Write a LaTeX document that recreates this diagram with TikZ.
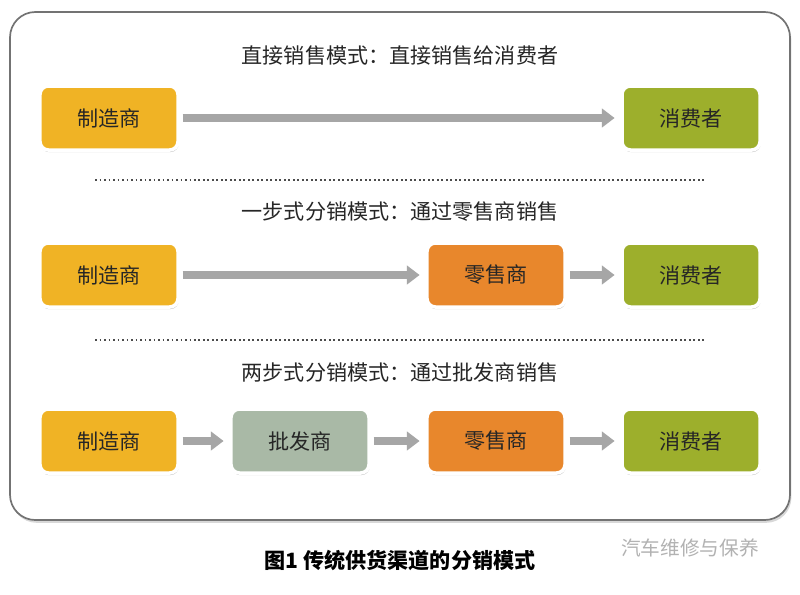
\documentclass[tikz,border=0pt]{standalone}
\usepackage{fontspec}
\newfontfamily\cjk{Noto Sans CJK SC}
\usetikzlibrary{arrows.meta,shadows,positioning}
\definecolor{mfr}{HTML}{F0B325}
\definecolor{ret}{HTML}{E8872C}
\definecolor{cons}{HTML}{9DAF2C}
\definecolor{whl}{HTML}{A9B9A6}
\tikzset{
  box/.style={draw=white, line width=2.5pt, rounded corners=6pt, minimum width=3.45cm,
    minimum height=1.6cm, font=\cjk\fontsize{15}{15}\selectfont, text=black!85,
    drop shadow={shadow xshift=0.5pt, shadow yshift=-1.5pt, opacity=0.45}},
  flow/.style={line width=5pt, draw=black!35, -{Triangle[length=9pt,width=13pt]}, shorten <=2pt, shorten >=4pt},
  title/.style={font=\cjk\fontsize{15}{15}\selectfont, text=black!85},
  sep/.style={dotted, line width=1.2pt, black!70}
}
\begin{document}
\begin{tikzpicture}[x=0.025cm,y=-0.025cm]
  \useasboundingbox (0,0) rectangle (800,594);
  \fill[white] (0,0) rectangle (800,594);
  \draw[black!55, line width=1.2pt, rounded corners=18pt, fill=white,
    drop shadow={shadow xshift=1pt, shadow yshift=-2pt, opacity=0.3}] (10,12) rectangle (790,520);
  % row 1
  \node[title] (t1) at (400,55) {直接销售模式：直接销售给消费者};
  \node[box, fill=mfr] (m1) at (109,118) {制造商};
  \node[box, fill=cons] (c1) at (691,118) {消费者};
  \draw[flow] (m1) -- (c1);
  \draw[sep] (95,180) -- (705,180);
  % row 2
  \node[title] (t2) at (400,212) {一步式分销模式：通过零售商销售};
  \node[box, fill=mfr] (m2) at (109,275) {制造商};
  \node[box, fill=ret] (r2) at (496,275) {零售商};
  \node[box, fill=cons] (c2) at (691,275) {消费者};
  \draw[flow] (m2) -- (r2);
  \draw[flow] (r2) -- (c2);
  \draw[sep] (95,340) -- (705,340);
  % row 3
  \node[title] (t3) at (400,372) {两步式分销模式：通过批发商销售};
  \node[box, fill=mfr] (m3) at (109,441) {制造商};
  \node[box, fill=whl] (w3) at (300,441) {批发商};
  \node[box, fill=ret] (r3) at (496,441) {零售商};
  \node[box, fill=cons] (c3) at (691,441) {消费者};
  \draw[flow] (m3) -- (w3);
  \draw[flow] (w3) -- (r3);
  \draw[flow] (r3) -- (c3);
  % caption
  \node[font=\cjk\bfseries\fontsize{15}{15}\selectfont] (cap) at (400,560) {图1 传统供货渠道的分销模式};
  \node[font=\cjk\fontsize{14}{14}\selectfont, text=black!30] (wm) at (690,548) {汽车维修与保养};
\end{tikzpicture}
\end{document}
